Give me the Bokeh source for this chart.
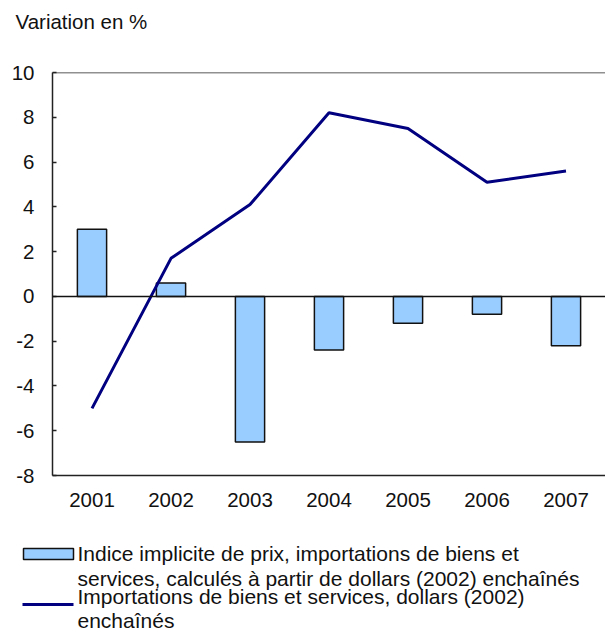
from bokeh.plotting import figure
from bokeh.models import Range1d, FactorRange, FixedTicker, Span, Plot
from bokeh.layouts import column
from bokeh.core.properties import value
from bokeh.embed import file_html
from bokeh.resources import INLINE

years = ["2001", "2002", "2003", "2004", "2005", "2006", "2007"]
price_index = [3.0, 0.6, -6.5, -2.4, -1.2, -0.8, -2.2]
imports = [-5.0, 1.7, 4.1, 8.2, 7.5, 5.1, 5.6]
y_ticks = [-8, -6, -4, -2, 0, 2, 4, 6, 8, 10]
title_text = "Variation en %"
legend_bar = ["Indice implicite de prix, importations de biens et",
              "services, calculés à partir de dollars (2002) enchaînés"]
legend_line = ["Importations de biens et services, dollars (2002)",
               "enchaînés"]

FONT = "Liberation Sans"
FS = "20.5px"
FS_LEG = "21px"
BAR_COLOR = "#99CCFF"
LINE_COLOR = "#000080"
TXT = "#111111"
W = 597
HAS_FA = "frame_align" in Plot.properties()


def blank(h):
    f = figure(width=W, height=h, x_range=Range1d(0, W), y_range=Range1d(h, 0),
               output_backend="svg", toolbar_location=None,
               x_axis_location=None, y_axis_location=None,
               min_border=0, min_border_left=0, min_border_right=0,
               min_border_top=0, min_border_bottom=0)
    f.grid.visible = False
    f.outline_line_color = None
    if HAS_FA:
        f.frame_align = False
    return f

# title
tf = blank(48)
tf.text(x=[7], y=[13], text=[title_text], text_font=value(FONT),
        text_font_size=FS, text_baseline="middle", text_color=TXT)

# main chart
p = figure(width=W, height=459, x_range=FactorRange(*years),
           y_range=Range1d(-8, 10), output_backend="svg", toolbar_location=None,
           min_border_left=44, min_border_right=0, min_border_top=16,
           min_border_bottom=40)
if HAS_FA:
    p.frame_align = False
p.outline_line_color = None
p.grid.visible = False
p.vbar(x=years, top=price_index, bottom=0, width=0.37, fill_color=BAR_COLOR,
       line_color=TXT, line_width=1.5)
p.line(x=years, y=imports, line_color=LINE_COLOR, line_width=3)
p.add_layout(Span(location=0, dimension="width", line_color=TXT, line_width=1.5))
p.add_layout(Span(location=10, dimension="width", line_color="#222222", line_width=1.5))

p.yaxis.ticker = FixedTicker(ticks=y_ticks)
p.yaxis.major_label_overrides = {t: str(t) for t in y_ticks}
for ax in (p.xaxis[0], p.yaxis[0]):
    ax.axis_line_color = "#222222"
    ax.axis_line_width = 1.5
    ax.major_label_text_font = FONT
    ax.major_label_text_font_size = FS
    ax.major_label_text_color = TXT
    ax.minor_tick_line_color = None
p.yaxis.major_tick_in = 4
p.yaxis.major_tick_out = 0
p.yaxis.major_tick_line_color = "#222222"
p.yaxis.major_tick_line_width = 1.5
p.yaxis.major_label_standoff = 18
p.xaxis.major_tick_line_color = None
p.xaxis.major_label_standoff = 11

# legend
lf = blank(118)
lf.quad(left=[15], right=[65], top=[33], bottom=[44], fill_color=BAR_COLOR,
        line_color=TXT, line_width=1.5)
lf.line(x=[14, 65], y=[89, 89], line_color=LINE_COLOR, line_width=3)
lf.text(x=[69, 69, 69, 69], y=[38, 63, 81, 105],
        text=legend_bar + legend_line, text_font=value(FONT),
        text_font_size=FS_LEG, text_baseline="middle", text_color=TXT)

layout = column(tf, p, lf, spacing=0, margin=(8, 0, 0, 8))
open("out.html", "w").write(file_html(layout, INLINE))
